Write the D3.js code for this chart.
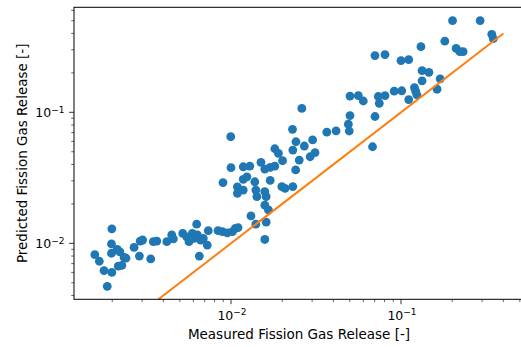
<!DOCTYPE html>
<html>
<head>
<meta charset="utf-8">
<script src="https://cdn.jsdelivr.net/npm/d3@7"></script>
<style>
  body { margin: 0; background: #fff; overflow: hidden; }
  text { font-family: "DejaVu Sans", sans-serif; fill: #000; }
</style>
</head>
<body>
<div id="chart"></div>
<script>
// measured vs predicted fission gas release
const measured = [
  0.00158, 0.00168, 0.00179, 0.00187, 0.00199, 0.00198, 0.00198, 0.00199, 0.00214, 0.00222,
  0.00235, 0.00241, 0.00217, 0.00228, 0.00269, 0.00289, 0.00292, 0.00302, 0.00337, 0.00349,
  0.00366, 0.00419, 0.00448, 0.00458, 0.0052, 0.00549, 0.00566, 0.00592, 0.00606, 0.00628,
  0.00634, 0.00663, 0.00651, 0.00725, 0.00735, 0.00839, 0.00889, 0.00951, 0.0102, 0.0106,
  0.0110, 0.0131, 0.0140, 0.0161, 0.0158, 0.00687,
  0.00897, 0.00996, 0.0100, 0.0109, 0.0109, 0.0118, 0.0118, 0.0124, 0.0118, 0.0129,
  0.0138, 0.0140, 0.0142, 0.0150, 0.0158, 0.0158, 0.0161, 0.0158, 0.0166, 0.0170,
  0.0181, 0.0170, 0.0199, 0.0208, 0.0231, 0.0240, 0.0181, 0.0190, 0.0201, 0.0231,
  0.0252, 0.0292, 0.0312, 0.0230, 0.0241, 0.0270, 0.0302, 0.0366, 0.0415, 0.0261,
  0.0490, 0.0496, 0.0501, 0.0703, 0.0680, 0.0501, 0.0561, 0.0600, 0.0735, 0.0805,
  0.0745, 0.0912, 0.101, 0.120, 0.122, 0.124, 0.111, 0.163, 0.170, 0.133,
  0.146, 0.133, 0.100, 0.111, 0.0703, 0.0805, 0.131, 0.181, 0.211, 0.222,
  0.232, 0.201, 0.292, 0.342, 0.349
];
const predicted = [
  0.0082, 0.0073, 0.0062, 0.0047, 0.0129, 0.0099, 0.0084, 0.0060, 0.0090, 0.0086,
  0.0078, 0.0077, 0.0067, 0.0068, 0.0093, 0.0080, 0.0104, 0.0106, 0.0076, 0.0103,
  0.0104, 0.0103, 0.0116, 0.0108, 0.0119, 0.0112, 0.0103, 0.0119, 0.0109, 0.0140,
  0.0116, 0.0106, 0.0080, 0.0097, 0.0125, 0.0125, 0.0123, 0.0120, 0.0123, 0.0130,
  0.0132, 0.0162, 0.0140, 0.0145, 0.0107, 0.0109,
  0.0291, 0.0651, 0.0378, 0.0270, 0.0241, 0.0255, 0.0308, 0.0322, 0.0384, 0.0389,
  0.0295, 0.0255, 0.0227, 0.0415, 0.0369, 0.0248, 0.0227, 0.0196, 0.0180, 0.0380,
  0.0389, 0.0302, 0.0271, 0.0263, 0.0271, 0.0363, 0.0527, 0.0486, 0.0427, 0.0515,
  0.0432, 0.0458, 0.0493, 0.0741, 0.0596, 0.0553, 0.0615, 0.0705, 0.0722, 0.107,
  0.0811, 0.0720, 0.0945, 0.0929, 0.0546, 0.133, 0.134, 0.122, 0.132, 0.134,
  0.117, 0.145, 0.146, 0.154, 0.145, 0.136, 0.125, 0.150, 0.180, 0.208,
  0.202, 0.174, 0.248, 0.252, 0.271, 0.276, 0.317, 0.349, 0.307, 0.290,
  0.290, 0.500, 0.500, 0.394, 0.365
];
// y = x reference line
const idealLine = [0.001, 0.4];

const xDomain = [0.001192, 0.5185];
const yDomain = [0.00374, 0.633];
const xTicks = [0.01, 0.1];
const yTicks = [0.01, 0.1];
const xTickLabels = ["\u22122", "\u22121"];
const yTickLabels = ["\u22122", "\u22121"];

const width = 521, height = 347;
// the right spine sits just past the picture's edge
const margin = {top: 7.3, right: -1.5, bottom: 47.7, left: 74};
const w = width - margin.left - margin.right,
      h = height - margin.top - margin.bottom;

const svg = d3.select("#chart")
  .append("svg")
  .attr("width", width)
  .attr("height", height)
  .append("g")
  .attr("transform", "translate(" + margin.left + "," + margin.top + ")");

const x = d3.scaleLog().domain(xDomain).range([0, w]);
const y = d3.scaleLog().domain(yDomain).range([h, 0]);

svg.append("clipPath").attr("id", "clip")
  .append("rect").attr("width", w).attr("height", h);

// minor ticks for each decade inside the domain
let minorTicks = (dom) => {
  let out = [];
  for (let e = -4; e <= 0; e++) {
    for (let m = 2; m <= 9; m++) {
      let v = m * Math.pow(10, e);
      if (v >= dom[0] && v <= dom[1]) out.push(v);
    }
  }
  return out;
};

let powLabel = (sel, sup) => {
  sel.text("10");
  sel.append("tspan")
    .attr("dy", "-0.5em")
    .attr("font-size", "9px")
    .text(sup);
};

// x axis
const xAxis = svg.append("g").attr("transform", `translate(0,${h})`);
xAxis.selectAll("line.minor").data(minorTicks(xDomain)).enter()
  .append("line")
  .attr("x1", d => x(d)).attr("x2", d => x(d))
  .attr("y1", 0).attr("y2", 2.8)
  .attr("stroke", "#000").attr("stroke-width", 0.6);
xAxis.selectAll("line.major").data(xTicks).enter()
  .append("line")
  .attr("x1", d => x(d)).attr("x2", d => x(d))
  .attr("y1", 0).attr("y2", 4.9)
  .attr("stroke", "#000").attr("stroke-width", 0.8);
xAxis.selectAll("text").data(xTicks).enter()
  .append("text")
  .attr("x", d => x(d) + 1)
  .attr("y", 20.5)
  .attr("text-anchor", "middle")
  .attr("font-size", "12.5px")
  .each(function(d, i) { powLabel(d3.select(this), xTickLabels[i]); });

// y axis
const yAxis = svg.append("g");
yAxis.selectAll("line.minor").data(minorTicks(yDomain)).enter()
  .append("line")
  .attr("y1", d => y(d)).attr("y2", d => y(d))
  .attr("x1", 0).attr("x2", -2.8)
  .attr("stroke", "#000").attr("stroke-width", 0.6);
yAxis.selectAll("line.major").data(yTicks).enter()
  .append("line")
  .attr("y1", d => y(d)).attr("y2", d => y(d))
  .attr("x1", 0).attr("x2", -4.9)
  .attr("stroke", "#000").attr("stroke-width", 0.8);
yAxis.selectAll("text").data(yTicks).enter()
  .append("text")
  .attr("x", -9.5)
  .attr("y", d => y(d) + 5)
  .attr("text-anchor", "end")
  .attr("font-size", "12.5px")
  .each(function(d, i) { powLabel(d3.select(this), yTickLabels[i]); });

// points
svg.append("g")
  .attr("clip-path", "url(#clip)")
  .selectAll("circle")
  .data(measured.map((m, i) => ({m: m, p: predicted[i]})))
  .enter()
  .append("circle")
    .attr("cx", d => x(d.m))
    .attr("cy", d => y(d.p))
    .attr("r", 4.4)
    .attr("fill", "#1f77b4");

// ideal line
svg.append("path")
  .datum(idealLine)
  .attr("clip-path", "url(#clip)")
  .attr("fill", "none")
  .attr("stroke", "#ff7f0e")
  .attr("stroke-width", 2)
  .attr("d", d3.line().x(d => x(d)).y(d => y(d)));

// frame
svg.append("rect")
  .attr("width", w).attr("height", h)
  .attr("fill", "none")
  .attr("stroke", "#000")
  .attr("stroke-width", 1);

// axis titles
svg.append("text")
  .attr("x", 225)
  .attr("y", h + 40)
  .attr("text-anchor", "middle")
  .attr("font-size", "13.5px")
  .text("Measured Fission Gas Release [-]");
svg.append("text")
  .attr("transform", `translate(-47,${h / 2}) rotate(-90)`)
  .attr("text-anchor", "middle")
  .attr("font-size", "13.5px")
  .text("Predicted Fission Gas Release [-]");
</script>
</body>
</html>
